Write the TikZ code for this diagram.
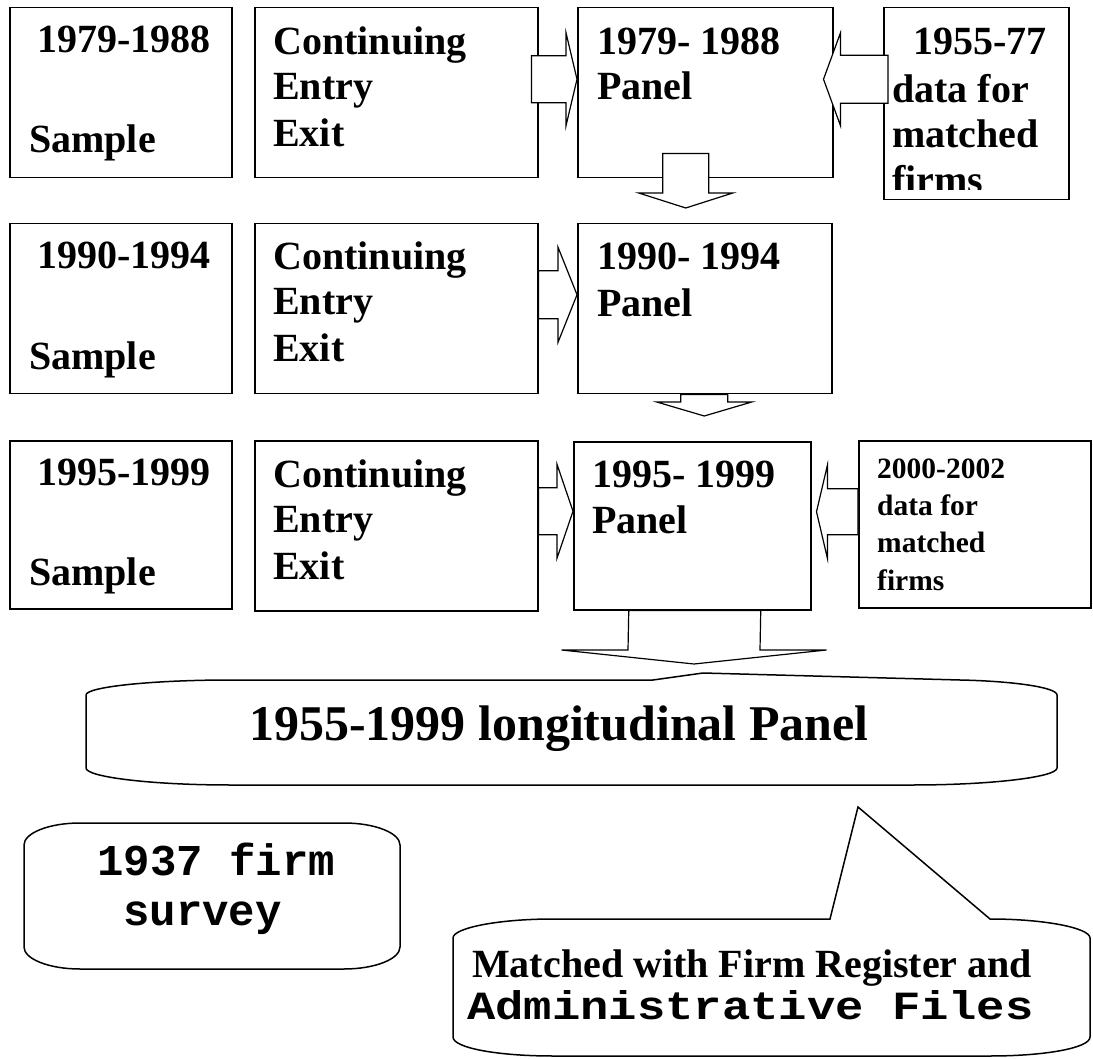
\documentclass[tikz,border=0pt]{standalone}
\usepackage{fontspec}
\setmainfont{Liberation Serif}
\setmonofont{Liberation Mono}
\usetikzlibrary{calc}
\newcommand\blkR[5]{\draw[blk] ($(#1)+(0,-#3)$) -- ($(#2)+(-#5,-#3)$) -- ($(#2)+(-#5,-#4)$) -- (#2) -- ($(#2)+(-#5,#4)$) -- ($(#2)+(-#5,#3)$) -- ($(#1)+(0,#3)$) -- cycle;}
\newcommand\blkL[5]{\draw[blk] ($(#1)+(0,-#3)$) -- ($(#2)+(#5,-#3)$) -- ($(#2)+(#5,-#4)$) -- (#2) -- ($(#2)+(#5,#4)$) -- ($(#2)+(#5,#3)$) -- ($(#1)+(0,#3)$) -- cycle;}
\newcommand\blkD[5]{\draw[blk] ($(#1)+(-#3,0)$) -- ($(#2)+(-#3,-#5)$) -- ($(#2)+(-#4,-#5)$) -- (#2) -- ($(#2)+(#4,-#5)$) -- ($(#2)+(#3,-#5)$) -- ($(#1)+(#3,0)$) -- cycle;}
\begin{document}
\begin{tikzpicture}[x=1pt,y=-1pt,
  box/.style={draw, line width=1.5pt, fill=white, anchor=north west, inner sep=0pt},
  blk/.style={draw, line width=1.2pt, fill=white, line join=miter},
  shp/.style={draw, line width=1.5pt, fill=white},
  txt/.style={inner sep=0pt, anchor=base west, font=\fontsize{40}{46}\selectfont\bfseries},
  stxt/.style={inner sep=0pt, anchor=base west, font=\fontsize{29.5}{36}\selectfont\bfseries},
  ptxt/.style={inner sep=0pt, anchor=base west, font=\fontsize{50}{58}\selectfont\bfseries},
  mtxt/.style={inner sep=0pt, anchor=base west, font=\fontsize{44}{50}\selectfont\ttfamily\bfseries}]
\useasboundingbox[fill=white] (0,0) rectangle (1093,1059);

% boxes
\node[box, minimum width=222pt, minimum height=170pt] (a1) at (9,7) {};
\node[box, minimum width=283pt, minimum height=170pt] (b1) at (254,7) {};
\node[box, minimum width=255pt, minimum height=170pt] (c1) at (577,7) {};
\node[box, minimum width=185pt, minimum height=192pt] (d1) at (883,7) {};
\node[box, minimum width=222pt, minimum height=170pt] (a2) at (9,223) {};
\node[box, minimum width=283pt, minimum height=170pt] (b2) at (254,223) {};
\node[box, minimum width=254pt, minimum height=170pt] (c2) at (577,223) {};
\node[box, minimum width=222pt, minimum height=168pt] (a3) at (9,440) {};
\node[box, minimum width=283pt, minimum height=170pt] (b3) at (254,440) {};
\node[box, minimum width=237pt, minimum height=168pt] (c3) at (573,441) {};
\node[box, minimum width=232pt, minimum height=167pt] (d3) at (858,440) {};

% block arrows
\coordinate (arAt) at ($(b1.east)+(-7,-13.5)$);
\coordinate (arAh) at ($(c1.west)+(0,-13.5)$);
\blkR{arAt}{arAh}{23.5}{46.5}{11}
\coordinate (arBt) at ($(d1.west)+(5,-24.5)$);
\coordinate (arBh) at ($(c1.east)+(-10,-13.5)$);
\blkL{arBt}{arBh}{24}{46.5}{17}
\coordinate (arCt) at ($(c1.south)+(-19.5,-25)$);
\coordinate (arCh) at ($(c2.north)+(-19,-15)$);
\blkD{arCt}{arCh}{23}{47}{15}
\coordinate (arDt) at ($(b2.east)+(0,-14)$);
\coordinate (arDh) at ($(c2.west)+(0,-14)$);
\blkR{arDt}{arDh}{24}{47.5}{19}
\coordinate (arEt) at ($(c2.south)+(-0.5,0)$);
\coordinate (arEh) at ($(c3.north)+(12,-25)$);
\blkD{arEt}{arEh}{23.5}{47.5}{14}
\coordinate (arFt) at ($(b3.east)+(0,-14.5)$);
\coordinate (arFh) at ($(c3.west)+(0,-14.5)$);
\blkR{arFt}{arFh}{23.5}{47}{16}
\coordinate (arGt) at ($(d3.west)+(0,-12.5)$);
\coordinate (arGh) at ($(c3.east)+(5,-14)$);
\blkL{arGt}{arGh}{23}{47}{11}

% panel callout
\draw[shp] (86,695) .. controls (86,687) and (151,680) .. (231,680) -- (653,680) -- (703,673) -- (960,680)
  .. controls (1010,681) and (1057,687) .. (1057,695) -- (1057,768)
  .. controls (1057,777) and (992,785) .. (912,785) -- (231,785)
  .. controls (151,785) and (86,777) .. (86,768) -- cycle;
\coordinate (arHt) at ($(c3.south)+(2.5,0)$);
\coordinate (arHh) at (694,664);
\blkD{arHt}{arHh}{66}{132.5}{14}
\node[ptxt] (ptext) at (249,740) {1955-1999 longitudinal Panel};

% 1937 box
\draw[shp] (24,845) .. controls (24,833) and (49,823) .. (80,823) -- (344,823)
  .. controls (375,823) and (400,833) .. (400,845) -- (400,947)
  .. controls (400,959) and (375,969) .. (344,969) -- (80,969)
  .. controls (49,969) and (24,959) .. (24,947) -- cycle;
\node[mtxt] (s1) at (97,875) {1937 firm};
\node[mtxt] (s2) at (123,925) {survey};

% matched callout
\draw[shp] (453,938) .. controls (453,928) and (498,919) .. (553,919) -- (830,919) -- (858,807) -- (990,919)
  .. controls (1045,919) and (1090,928) .. (1090,938) -- (1090,1037)
  .. controls (1090,1048) and (1045,1056) .. (990,1056) -- (553,1056)
  .. controls (498,1056) and (453,1048) .. (453,1037) -- cycle;
\node[txt] (m1) at (472,977) {Matched with Firm Register and};
\node[inner sep=0pt, anchor=base west] (m2) at (467,1019) {\scalebox{1.18}[1]{\fontsize{40}{46}\selectfont\ttfamily\bfseries Administrative Files}};

% texts rows
\node[txt] (a1t1) at (37,53) {1979-1988};
\node[txt] (a1t2) at (29,153) {Sample};
\node[txt] (b1t1) at (273,55) {Continuing};
\node[txt] (b1t2) at (273,100) {Entry};
\node[txt] (b1t3) at (273,147) {Exit};
\node[txt] (c1t1) at (597,55) {1979- 1988};
\node[txt] (c1t2) at (597,100) {Panel};
\begin{scope}
\clip (883,7) rectangle (1068,190);
\node[txt] (d1t1) at (913,55) {1955-77};
\node[txt] (d1t2) at (892,103) {data for};
\node[txt] (d1t3) at (892,148) {matched};
\node[txt] (d1t4) at (892,194) {firms};
\end{scope}

\node[txt] (a2t1) at (37,269) {1990-1994};
\node[txt] (a2t2) at (29,370) {Sample};
\node[txt] (b2t1) at (273,270) {Continuing};
\node[txt] (b2t2) at (273,315) {Entry};
\node[txt] (b2t3) at (273,362) {Exit};
\node[txt] (c2t1) at (597,270) {1990- 1994};
\node[txt] (c2t2) at (597,317) {Panel};

\node[txt] (a3t1) at (37,485) {1995-1999};
\node[txt] (a3t2) at (29,585) {Sample};
\node[txt] (b3t1) at (273,487) {Continuing};
\node[txt] (b3t2) at (273,532) {Entry};
\node[txt] (b3t3) at (273,579) {Exit};
\node[txt] (c3t1) at (592,487) {1995- 1999};
\node[txt] (c3t2) at (592,533) {Panel};
\node[stxt] (d3t1) at (877,478) {2000-2002};
\node[stxt] (d3t2) at (877,515) {data for};
\node[stxt] (d3t3) at (877,552) {matched};
\node[stxt] (d3t4) at (877,590) {firms};
\end{tikzpicture}
\end{document}
